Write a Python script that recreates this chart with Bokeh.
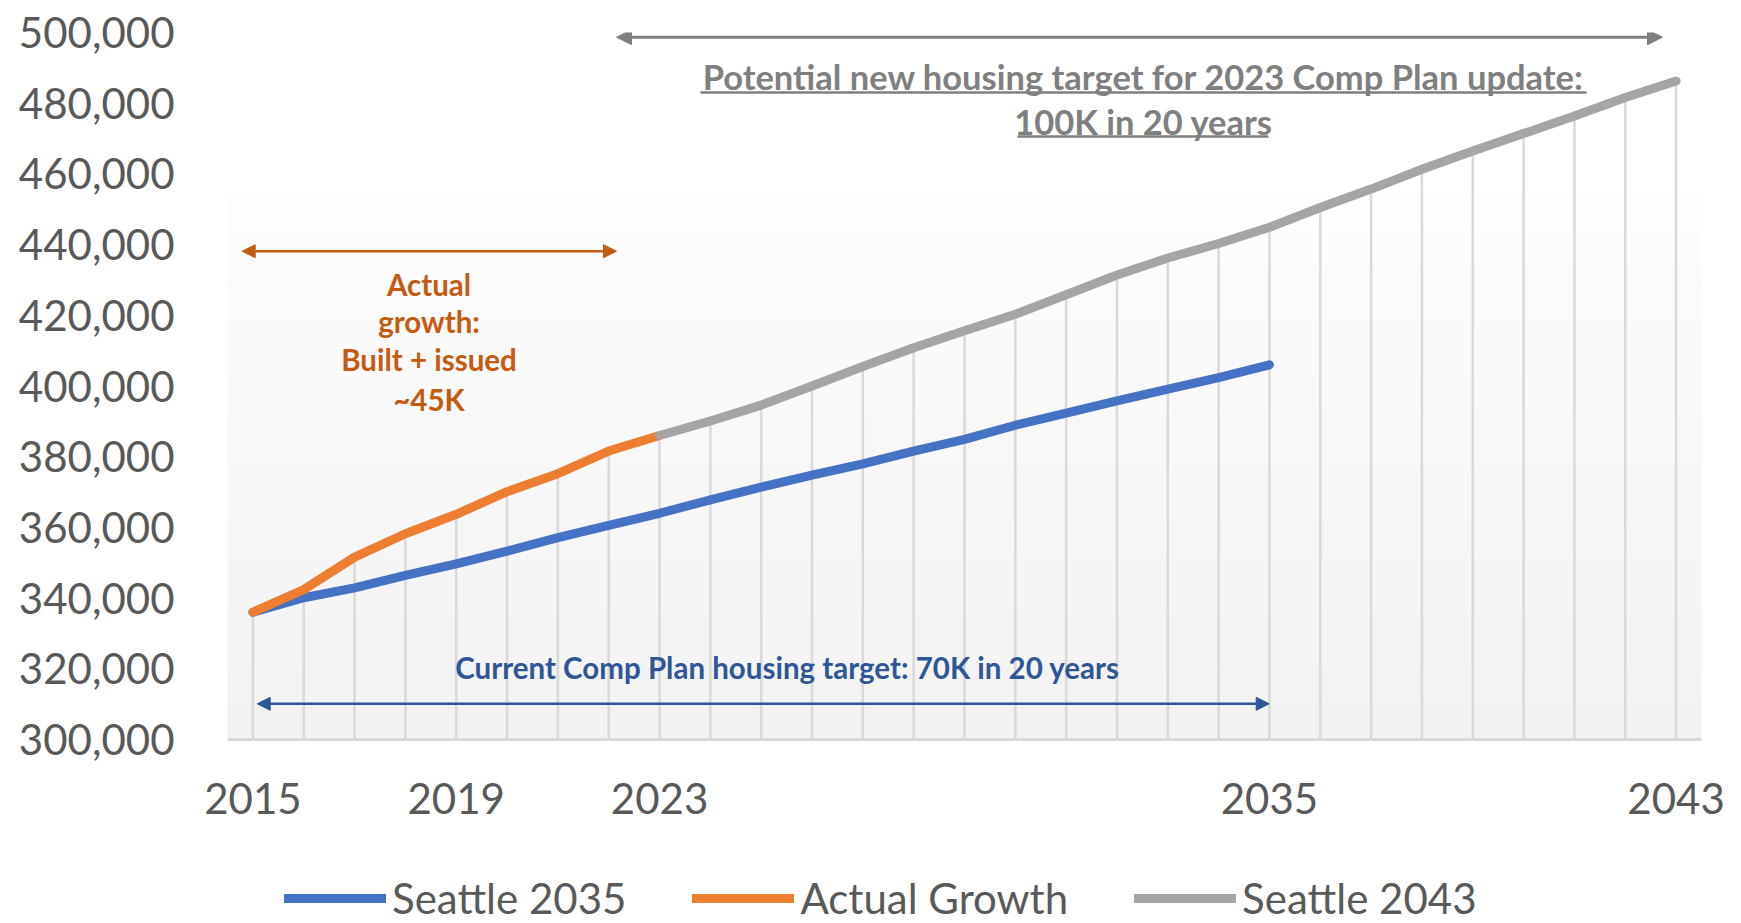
import numpy as np
from bokeh.plotting import figure
from bokeh.models import (Range1d, FixedTicker, NumeralTickFormatter, Label, Arrow,
                          NormalHead, Legend, LegendItem, BoxAnnotation)
from bokeh.embed import file_html
from bokeh.resources import INLINE

# ---------------- data ----------------
years_2035 = list(range(2015, 2036))
seattle_2035 = [336000, 340100, 342900, 346400, 349700, 353300, 357100, 360600, 364000,
                367800, 371400, 374800, 378000, 381600, 384900, 388900, 392300, 395800,
                399100, 402400, 406000]
years_actual = list(range(2015, 2024))
actual_growth = [336000, 342400, 351600, 358200, 363700, 370100, 375200, 381600, 386000]
years_2043 = list(range(2023, 2044))
seattle_2043 = [386000, 390100, 394600, 400000, 405500, 410800, 415600, 420300, 425800,
                431400, 436200, 440300, 444900, 450500, 455700, 461300, 466500, 471400,
                476400, 481600, 486300]
x_ticks = [2015, 2019, 2023, 2035, 2043]
x_tick_labels = ["2015", "2019", "2023", "2035", "2043"]
y_ticks = list(range(300000, 500001, 20000))
series_names = ["Seattle 2035", "Actual Growth", "Seattle 2043"]

# ---------------- layout helpers (screen px -> data) ----------------
W, H = 1741, 923
PA_LEFT, PA_RIGHT = 227, 1701     # plot-area edges (screen x)
TOP = 32
AX_PY = 739                       # screen y of the 300,000 baseline
F_LEFT, F_RIGHT = 190, 1736       # frame edges (wider, so edge tick labels are not clipped)
X0, X1 = 2014.5, 2043.5
Y0, Y1 = 300000, 500000
BASE_SHIFT = 11  # text baseline correction


def X(px):
    return X0 + (px - PA_LEFT) * (X1 - X0) / (PA_RIGHT - PA_LEFT)


def Y(py):
    return Y1 - (py - TOP) * (Y1 - Y0) / (AX_PY - TOP)


p = figure(width=W, height=H, x_range=Range1d(X(F_LEFT), X(F_RIGHT)),
           y_range=Range1d(Y(H), Y1),
           output_backend="svg", toolbar_location=None,
           min_border_left=F_LEFT, min_border_right=W - F_RIGHT, min_border_top=TOP,
           min_border_bottom=0)
p.outline_line_color = None
p.background_fill_color = "white"
p.border_fill_color = "white"
p.xgrid.grid_line_color = None
p.ygrid.grid_line_color = None

# gradient plot-area background
n = 30
g_top = 193
band = (AX_PY - g_top) / n
for i in range(n):
    t = i / (n - 1)
    c = int(round(253 - 11 * t))
    col = "#%02x%02x%02x" % (c, c, c)
    bot = Y(g_top + (i + 1) * band + 1) if i < n - 1 else Y0
    p.add_layout(BoxAnnotation(left=X0, right=X1, top=Y(g_top + i * band), bottom=bot,
                               fill_color=col, fill_alpha=1, line_color=None, level="underlay"))

# axes
TICK_FONT = "Lato"
p.yaxis.ticker = FixedTicker(ticks=y_ticks)
p.yaxis.formatter = NumeralTickFormatter(format="0,0")
p.yaxis.axis_line_color = None
p.yaxis.major_tick_line_color = None
p.yaxis.minor_tick_line_color = None
p.yaxis.major_label_standoff = 47 - (PA_LEFT - F_LEFT)
p.xaxis.fixed_location = Y0
p.xaxis.bounds = (X0, X1)
p.xaxis.ticker = FixedTicker(ticks=x_ticks)
p.xaxis.major_label_overrides = {t: l for t, l in zip(x_ticks, x_tick_labels)}
p.xaxis.axis_line_color = "#d9d9d9"
p.xaxis.axis_line_width = 3
p.xaxis.major_tick_line_color = None
p.xaxis.minor_tick_line_color = None
p.xaxis.major_label_standoff = 37
for ax in (p.xaxis, p.yaxis):
    ax.major_label_text_font = TICK_FONT
    ax.major_label_text_font_size = "42px"
    ax.major_label_text_color = "#595959"

# drop lines from highest series value at each year
all_years = list(range(2015, 2044))
top_vals = []
for yr in all_years:
    vals = []
    if yr in years_actual:
        vals.append(actual_growth[years_actual.index(yr)])
    if yr in years_2043:
        vals.append(seattle_2043[years_2043.index(yr)])
    if yr in years_2035:
        vals.append(seattle_2035[years_2035.index(yr)])
    top_vals.append(max(vals))
p.segment(x0=all_years, y0=top_vals, x1=all_years, y1=[Y0] * len(all_years),
          line_color="#d9d9d9", line_width=2.5)

r_blue = p.line(years_2035, seattle_2035, line_color="#4472c4", line_width=9,
                line_cap="round", line_join="round")
r_orange = p.line(years_actual, actual_growth, line_color="#ed7d31", line_width=9,
                  line_cap="round", line_join="round")
r_gray = p.line(years_2043, seattle_2043, line_color="#a5a5a5", line_width=9,
                line_cap="round", line_join="round")

# ---------------- annotations ----------------
GRAY_T = "#7f7f7f"
ORANGE_T = "#c55a11"
BLUE_T = "#2f5597"


def arrow(px0, px1, py, color, size=14, width=2.5):
    p.add_layout(Arrow(x_start=X(px0), y_start=Y(py), x_end=X(px1), y_end=Y(py),
                       start=NormalHead(size=size, fill_color=color, line_color=color),
                       end=NormalHead(size=size, fill_color=color, line_color=color),
                       line_color=color, line_width=width))


def label(px, py, text, color, size):
    p.add_layout(Label(x=X(px), y=Y(py - BASE_SHIFT), text=text, text_align="center",
                       text_baseline="alphabetic", text_font="Lato", text_font_style="bold",
                       text_font_size=size, text_color=color))


arrow(616, 1662, 36.7, GRAY_T, size=15, width=3)
label(1143, 87, "Potential new housing target for 2023 Comp Plan update:", GRAY_T, "34.5px")
label(1143, 132, "100K in 20 years", GRAY_T, "34.5px")
p.segment(x0=[X(700), X(1017)], y0=[Y(92), Y(136)], x1=[X(1586), X(1268)], y1=[Y(92), Y(136)],
          line_color=GRAY_T, line_width=2.5)

arrow(241.7, 616, 250.7, ORANGE_T, size=13, width=2.5)
label(428.5, 295, "Actual", ORANGE_T, "29.5px")
label(428.5, 332, "growth:", ORANGE_T, "29.5px")
label(428.5, 370, "Built + issued", ORANGE_T, "29.5px")
label(428.5, 410, "~45K", ORANGE_T, "29.5px")

arrow(256.7, 1268.7, 703.3, BLUE_T, size=13, width=2.5)
label(787, 678, "Current Comp Plan housing target: 70K in 20 years", BLUE_T, "29.5px")

# ---------------- legend ----------------
legend = Legend(items=[LegendItem(label=series_names[0], renderers=[r_blue]),
                       LegendItem(label=series_names[1], renderers=[r_orange]),
                       LegendItem(label=series_names[2], renderers=[r_gray])],
                orientation="horizontal", location=(284 - F_LEFT, 0),
                label_text_font="Lato", label_text_font_size="42px",
                label_text_color="#595959", glyph_width=102, glyph_height=40,
                label_standoff=6, spacing=66, padding=0, margin=0,
                border_line_color=None, background_fill_alpha=0)
p.add_layout(legend)

open("out.html", "w").write(file_html(p, INLINE))
